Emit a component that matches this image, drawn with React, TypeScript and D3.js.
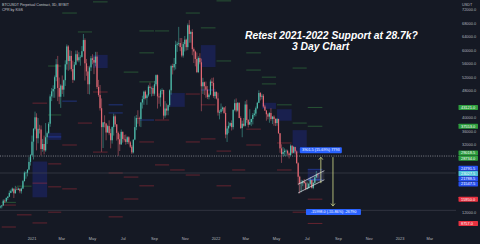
import React, { useEffect } from 'react';
import * as d3 from 'd3';

const W = 480;
const H = 244;

// ---- candles: 3-day bars starting 2020-10-30 (prices in thousands USDT) ----
const FIRST_BAR = '2020-10-30';
const BAR_DAYS = 3;
const OPEN0 = 13.5;
const closes = [
  13.8, 14.1, 15.5, 15.3, 16.3, 16.7, 17.8, 18.4, 19.1, 17.7,
  18.8, 18.7, 19.1, 18.3, 19.1, 21.3, 23.8, 23.8, 24.7, 27.0,
  29.0, 33.0, 36.8, 40.2, 34.0, 36.8, 36.6, 30.8, 32.3, 30.4,
  34.3, 35.5, 38.3, 46.4, 47.9, 48.6, 52.1, 55.9, 48.9, 46.3,
  49.6, 48.4, 51.2, 55.9, 61.2, 56.9, 58.4, 54.5, 51.3, 55.8,
  58.9, 57.1, 58.0, 58.1, 59.8, 63.1, 56.2, 53.8, 50.0, 55.0,
  57.7, 57.2, 56.4, 58.2, 49.2, 46.8, 42.9, 37.3, 38.7, 38.4,
  35.7, 37.6, 35.5, 33.4, 37.3, 40.5, 38.1, 35.6, 33.7, 32.2,
  35.9, 33.8, 33.7, 32.9, 34.3, 32.8, 31.5, 29.8, 33.6, 37.3,
  40.0, 39.9, 39.7, 44.6, 45.6, 47.8, 45.9, 46.7, 49.3, 48.9,
  48.9, 47.2, 50.0, 52.7, 46.4, 46.1, 48.1, 48.3, 40.7, 42.8,
  42.2, 43.8, 48.2, 55.4, 55.0, 56.0, 61.7, 62.0, 62.2, 61.0,
  58.5, 61.9, 63.2, 61.0, 67.5, 64.9, 65.5, 60.4, 59.7, 57.5,
  53.6, 57.8, 56.5, 49.4, 50.6, 49.4, 48.4, 46.2, 46.9, 50.8,
  50.4, 46.5, 47.7, 45.8, 41.6, 41.8, 42.6, 43.1, 41.5, 35.1,
  36.9, 37.7, 38.5, 37.3, 42.4, 44.4, 42.2, 44.5, 40.0, 37.0,
  38.3, 37.7, 44.0, 39.4, 38.0, 38.8, 39.7, 40.9, 41.3, 42.9,
  44.5, 47.4, 46.3, 46.6, 43.4, 42.2, 41.1, 40.4, 41.5, 39.7,
  40.4, 39.7, 38.5, 39.7, 35.5, 31.0, 29.3, 29.9, 30.3, 30.3,
  29.5, 29.0, 31.8, 29.7, 31.4, 30.1, 26.6, 22.6, 20.6, 20.7,
  21.2, 20.7, 19.0, 19.3, 20.5, 21.6, 19.3, 20.8, 22.4, 23.2,
  23.03,
];
const highs = [
  14.1, 14.2, 15.9, 15.9, 16.5, 16.9, 18.5, 18.8, 19.4, 19.0,
  19.9, 19.6, 19.4, 19.0, 19.4, 21.6, 24.2, 24.1, 24.8, 28.4,
  29.3, 34.8, 37.0, 41.9, 41.4, 40.0, 38.0, 37.8, 33.8, 34.8,
  38.5, 36.0, 38.8, 47.0, 48.9, 49.7, 52.6, 57.5, 58.4, 52.0,
  50.0, 52.6, 51.4, 57.1, 61.8, 61.6, 60.1, 59.9, 57.0, 56.6,
  60.0, 60.0, 59.5, 58.6, 61.3, 64.9, 63.6, 57.5, 55.4, 55.5,
  58.4, 58.9, 58.2, 59.6, 59.6, 51.3, 49.8, 45.8, 38.8, 40.8,
  38.4, 38.0, 39.3, 36.8, 37.5, 41.3, 41.0, 38.2, 36.0, 35.2,
  36.6, 36.0, 35.0, 35.1, 34.6, 34.6, 33.2, 32.0, 33.6, 40.5,
  40.9, 42.3, 40.4, 44.7, 46.6, 48.1, 48.2, 47.1, 49.8, 50.5,
  49.3, 49.6, 51.0, 52.9, 52.9, 47.3, 48.5, 48.8, 48.4, 45.0,
  44.3, 44.0, 48.5, 55.8, 56.1, 57.8, 62.9, 62.6, 67.0, 63.7,
  63.7, 62.5, 64.3, 63.5, 68.0, 69.0, 65.9, 66.3, 60.9, 60.0,
  59.4, 58.3, 59.2, 57.6, 51.9, 50.8, 50.8, 49.5, 47.3, 51.4,
  51.9, 52.0, 48.0, 47.9, 47.5, 42.3, 44.3, 43.4, 43.2, 43.5,
  37.6, 38.9, 38.7, 39.3, 42.6, 45.5, 45.8, 44.7, 44.6, 40.5,
  39.2, 40.0, 45.0, 45.4, 39.7, 42.6, 39.8, 41.5, 42.4, 43.4,
  44.8, 48.2, 47.7, 47.2, 47.1, 43.9, 42.4, 41.5, 41.7, 42.9,
  40.6, 40.8, 39.9, 40.0, 39.8, 35.5, 32.2, 31.4, 31.0, 30.7,
  30.6, 29.8, 32.2, 31.9, 31.7, 31.5, 30.4, 26.9, 22.9, 21.7,
  21.6, 21.9, 21.2, 20.9, 20.7, 22.5, 21.6, 20.9, 22.7, 24.3,
  23.7,
];
const lows = [
  13.2, 13.2, 14.0, 14.8, 15.1, 15.7, 16.6, 17.7, 18.0, 16.3,
  17.6, 18.6, 18.6, 17.7, 17.6, 19.0, 21.2, 22.0, 22.7, 24.5,
  25.9, 28.8, 27.7, 36.3, 30.4, 32.5, 35.4, 28.9, 30.0, 29.2,
  30.0, 32.3, 35.4, 37.4, 45.0, 46.0, 46.0, 50.9, 45.0, 44.1,
  43.0, 47.1, 46.3, 49.5, 54.3, 54.0, 54.3, 53.8, 50.4, 51.0,
  55.6, 56.7, 56.5, 55.5, 57.9, 59.8, 51.1, 52.5, 47.1, 47.0,
  53.9, 55.9, 53.0, 55.3, 48.6, 46.3, 42.2, 30.0, 31.1, 37.2,
  33.4, 35.7, 34.9, 31.0, 32.4, 34.8, 37.4, 33.3, 28.8, 30.2,
  32.0, 32.7, 33.0, 32.1, 32.3, 32.2, 31.1, 29.3, 29.5, 33.4,
  36.4, 38.3, 37.5, 37.3, 42.8, 43.9, 45.5, 43.9, 46.3, 47.1,
  46.4, 46.5, 46.6, 49.4, 42.8, 44.2, 43.4, 47.0, 39.6, 40.1,
  40.8, 40.8, 43.3, 46.9, 52.9, 54.1, 54.4, 59.6, 61.4, 59.8,
  58.0, 57.9, 59.7, 60.0, 60.1, 62.3, 62.3, 58.6, 56.3, 55.3,
  53.3, 53.3, 55.9, 42.0, 47.1, 46.8, 46.0, 45.6, 45.5, 46.7,
  49.5, 46.0, 45.7, 45.5, 40.7, 39.6, 41.3, 42.0, 41.2, 34.0,
  32.9, 35.5, 37.4, 36.3, 36.6, 42.0, 41.7, 41.9, 39.9, 36.8,
  34.3, 37.4, 37.5, 38.6, 37.2, 38.2, 37.6, 38.1, 40.4, 40.5,
  42.6, 44.4, 45.2, 45.5, 43.0, 42.1, 39.2, 39.6, 38.6, 39.2,
  38.2, 37.7, 37.6, 37.7, 35.3, 29.7, 26.7, 28.6, 28.7, 28.7,
  28.9, 28.0, 28.8, 29.3, 29.5, 29.2, 26.5, 20.1, 17.6, 18.0,
  19.8, 20.6, 18.6, 18.8, 19.0, 20.2, 19.1, 18.9, 20.5, 22.3,
  22.3,
];

// ---- monthly pivot level segments (month, price in thousands) ----
const greenLevels: [string, number][] = [
  ['2020-11', 15.0], ['2020-12', 19.8], ['2021-02', 55.4], ['2021-02', 40.9],
  ['2021-03', 71.1], ['2021-04', 65.5], ['2021-05', 74.4], ['2021-07', 53.6],
  ['2021-08', 65.8], ['2021-08', 59.3], ['2021-08', 50.7], ['2021-09', 65.8],
  ['2021-11', 71.1], ['2021-12', 66.7], ['2022-01', 74.7], ['2022-01', 56.9],
  ['2022-03', 59.3], ['2022-03', 54.2], ['2022-04', 52.1], ['2022-04', 50.1],
  ['2022-05', 43.9], ['2022-06', 54.8], ['2022-06', 38.5], ['2022-07', 43.121],
  ['2022-07', 37.553],
];
const redLevels: [string, number][] = [
  ['2020-11', 14.2], ['2020-11', 7.7], ['2020-12', 11.3], ['2021-01', 44.4],
  ['2021-01', 20.7], ['2021-01', 8.9], ['2021-02', 26.4], ['2021-02', 19.6],
  ['2021-02', 12.1], ['2021-03', 32.0], ['2021-03', 19.0], ['2021-03', 5.9],
  ['2021-04', 38.5], ['2021-05', 47.7], ['2021-05', 29.9], ['2021-06', 23.7],
  ['2021-06', 10.7], ['2021-07', 22.5], ['2021-07', 16.0], ['2021-08', 32.9],
  ['2021-08', 19.9], ['2021-09', 39.4], ['2021-09', 26.1], ['2021-10', 24.6],
  ['2021-11', 47.1], ['2021-11', 32.9], ['2021-11', 23.1], ['2021-12', 43.9],
  ['2021-12', 33.8], ['2022-01', 30.2], ['2022-01', 19.9], ['2022-02', 24.6],
  ['2022-02', 16.3], ['2022-03', 36.7], ['2022-03', 32.0], ['2022-05', 32.6],
  ['2022-05', 24.6], ['2022-06', 12.1], ['2022-07', 15.95], ['2022-07', 8.757],
];
const blueLevels: [string, number][] = [
  ['2021-02', 34.4], ['2021-03', 45.0], ['2021-06', 43.9], ['2021-06', 41.5],
  ['2021-08', 39.4], ['2021-12', 48.3], ['2022-07', 24.7915], ['2022-07', 21.7885],
  ['2022-07', 21.5475],
];
// central pivot range zones (month, top, bottom)
const cprZones: [string, number, number][] = [
  ['2021-01', 27.1, 16.5], ['2021-02', 35.6, 33.5], ['2021-05', 58.7, 54.8],
  ['2021-10', 47.4, 43.3], ['2021-12', 61.6, 55.1], ['2022-04', 44.5, 42.7],
  ['2022-05', 42.6, 39.2], ['2022-06', 36.4, 29.6], ['2022-07', 24.7915, 21.5475],
];

// ---- axes ----
const priceTicks = [72000, 68000, 64000, 60000, 56000, 52000, 48000, 44000, 40000, 36000, 32000, 28000, 24000, 20000, 16000, 12000, 8000];
const timeTicks: [string, string][] = [
  ['2021-01-01', '2021'], ['2021-03-01', 'Mar'], ['2021-05-01', 'May'], ['2021-07-01', 'Jul'],
  ['2021-09-01', 'Sep'], ['2021-11-01', 'Nov'], ['2022-01-01', '2022'], ['2022-03-01', 'Mar'],
  ['2022-05-01', 'May'], ['2022-07-01', 'Jul'], ['2022-09-01', 'Sep'], ['2022-11-01', 'Nov'],
  ['2023-01-01', '2023'], ['2023-03-01', 'Mar'],
];
const priceTags: [number, string][] = [
  [43121.0, 'green'], [37553.0, 'green'], [29018.5, 'green'], [28734.0, 'green'],
  [24791.5, 'blue'], [23027.5, 'cyan'], [21788.5, 'blue'], [21547.5, 'blue'],
  [15950.0, 'red'], [8757.0, 'red'],
];

// ---- drawings ----
const supportLevel = 28734;
const grayLines = [23700, 12640];
const channelLower: [string, number][] = [['2022-06-13', 17.8], ['2022-08-04', 21.7]];
const channelUpper: [string, number][] = [['2022-06-13', 20.4], ['2022-08-04', 24.4]];
const upMeasure = { date: '2022-07-28', from: 20.7, to: 28.4, text: '3901.5 (15.69%) 7793' };
const downMeasure = { date: '2022-08-21', from: 28.4, to: 13.9, text: '-15998.0 (-55.86%) -26790' };
const titleLines = ['Retest 2021-2022 Support at 28.7k?', '3 Day Chart'];
const legendLines = ['BTCUSDT Perpetual Contract, 3D, BYBIT', 'CPR by KGS'];

const COLORS: Record<string, string> = {
  green: '#2e9e3e', red: '#e8313f', blue: '#2750f0', cyan: '#4fc3d9',
};
const LINE_COLORS: Record<string, string> = {
  green: '#3f9a4a', red: '#c8323f', blue: '#2f55e8',
};

const parseDay = d3.utcParse('%Y-%m-%d');
const parseMonth = d3.utcParse('%Y-%m');

export default function App() {
  useEffect(() => {
    document.body.style.margin = '0';
    document.body.style.background = '#151924';
  }, []);

  const plotRight = 456;
  const x = d3.scaleUtc()
    .domain([new Date(Date.UTC(2021, 0, 1)), new Date(Date.UTC(2023, 0, 1))])
    .range([32, 400]);
  const y = d3.scaleLinear().domain([8000, 72000]).range([226, 10]);

  const t0 = parseDay(FIRST_BAR)!;
  const bars = closes.map((c, i) => ({
    date: d3.utcDay.offset(t0, i * BAR_DAYS),
    o: (i === 0 ? OPEN0 : closes[i - 1]) * 1000,
    c: c * 1000,
    h: highs[i] * 1000,
    l: lows[i] * 1000,
  }));

  const monthSpan = (m: string) => {
    const s = parseMonth(m)!;
    const e = d3.utcMonth.offset(s, 1);
    return [x(s) + 0.5, x(e) - 0.5];
  };

  // tag layout (stack overlapping tags)
  const TAG_H = 5.2;
  const sorted = priceTags.map(([p, c]) => ({ p, c, y0: y(p), y: y(p) })).sort((a, b) => a.y0 - b.y0);
  const groups: { items: typeof sorted }[] = [];
  const place = (gr: { items: typeof sorted }) => {
    const mean = d3.mean(gr.items, (d) => d.y0)!;
    const n = gr.items.length;
    gr.items.forEach((d, k) => { d.y = mean + (k - (n - 1) / 2) * TAG_H; });
  };
  sorted.forEach((t) => {
    groups.push({ items: [t] });
    let merged = true;
    while (merged && groups.length > 1) {
      merged = false;
      const g = groups[groups.length - 1];
      const prev = groups[groups.length - 2];
      place(g); place(prev);
      const prevBottom = prev.items[prev.items.length - 1].y;
      if (g.items[0].y - prevBottom < TAG_H) {
        prev.items = prev.items.concat(g.items);
        groups.pop();
        place(prev);
        merged = true;
      }
    }
  });
  const tags = sorted;
  const visibleTicks = priceTicks.filter((p) => tags.every((t) => Math.abs(t.y - y(p)) >= 5));

  const up = { x: x(parseDay(upMeasure.date)!), y1: y(upMeasure.from * 1000), y2: y(upMeasure.to * 1000) };
  const dn = { x: x(parseDay(downMeasure.date)!), y1: y(downMeasure.from * 1000), y2: y(downMeasure.to * 1000) };
  const arrowColor = '#d6dd8c';

  const chPt = (d: [string, number]) => [x(parseDay(d[0])!), y(d[1] * 1000)] as [number, number];
  const lo = channelLower.map(chPt);
  const hi = channelUpper.map(chPt);

  const upColor = '#4fbfae';
  const downColor = '#e46874';

  return (
    <svg width={W} height={H} style={{ position: 'absolute', left: 0, top: 0, display: 'block' }}
      fontFamily="'Liberation Sans', Arial, sans-serif">
      <rect x={0} y={0} width={W} height={H} fill="#151924" />
      <defs>
        <clipPath id="plot"><rect x={0} y={0} width={plotRight} height={232} /></clipPath>
      </defs>
      <g clipPath="url(#plot)">
        {/* CPR zones */}
        {cprZones.map(([m, t, b], i) => {
          const [x1, x2] = monthSpan(m);
          return <rect key={'z' + i} x={x1} y={y(t * 1000)} width={x2 - x1}
            height={y(b * 1000) - y(t * 1000)} fill="#2433b0" fillOpacity={0.3} />;
        })}
        {/* level segments */}
        {([[greenLevels, LINE_COLORS.green], [redLevels, LINE_COLORS.red], [blueLevels, LINE_COLORS.blue]] as [[string, number][], string][]).map(([arr, col], gi) =>
          arr.map(([m, p], i) => {
            const [x1, x2] = monthSpan(m);
            return <line key={gi + '-' + i} x1={x1} x2={x2} y1={y(p * 1000)} y2={y(p * 1000)}
              stroke={col} strokeWidth={0.6} strokeOpacity={0.75} />;
          })
        )}
        {/* gray horizontal lines */}
        {grayLines.map((p, i) => (
          <line key={'g' + i} x1={0} x2={plotRight} y1={y(p)} y2={y(p)} stroke="#434753" strokeWidth={0.6} />
        ))}
        {/* support dotted */}
        <line x1={0} x2={plotRight} y1={y(supportLevel)} y2={y(supportLevel)}
          stroke="#c9cbd2" strokeWidth={0.6} strokeDasharray="1 1.3" />
        {/* candles */}
        {bars.map((b, i) => {
          const cx = x(b.date);
          const col = b.c >= b.o ? upColor : downColor;
          const top = y(Math.max(b.o, b.c));
          const bot = y(Math.min(b.o, b.c));
          return (
            <g key={'b' + i}>
              <line x1={cx} x2={cx} y1={y(b.h)} y2={y(b.l)} stroke={col} strokeWidth={0.5} />
              <rect x={cx - 0.6} y={top} width={1.2} height={Math.max(0.5, bot - top)} fill={col} />
            </g>
          );
        })}
        {/* channel */}
        <polygon points={[lo[0], lo[1], hi[1], hi[0]].map((p) => p.join(',')).join(' ')}
          fill="#ffffff" fillOpacity={0.08} />
        <line x1={lo[0][0]} y1={lo[0][1]} x2={lo[1][0]} y2={lo[1][1]} stroke="#e8e8ee" strokeWidth={0.7} />
        <line x1={hi[0][0]} y1={hi[0][1]} x2={hi[1][0]} y2={hi[1][1]} stroke="#e8e8ee" strokeWidth={0.7} />
        {/* measures */}
        <line x1={up.x} x2={up.x} y1={up.y1} y2={up.y2 + 1} stroke={arrowColor} strokeWidth={0.8} />
        <path d={`M${up.x - 2},${up.y2 + 2.5} L${up.x},${up.y2} L${up.x + 2},${up.y2 + 2.5}`} fill="none" stroke={arrowColor} strokeWidth={0.8} />
        <line x1={dn.x} x2={dn.x} y1={dn.y1} y2={dn.y2 - 1} stroke={arrowColor} strokeWidth={0.8} />
        <path d={`M${dn.x - 2},${dn.y2 - 2.5} L${dn.x},${dn.y2} L${dn.x + 2},${dn.y2 - 2.5}`} fill="none" stroke={arrowColor} strokeWidth={0.8} />
        <rect x={up.x - 21} y={up.y2 - 10} width={42} height={6} rx={0.8} fill="#2962ff" />
        <text x={up.x} y={up.y2 - 5.7} textAnchor="middle" fontSize={3.8} fill="#ffffff">{upMeasure.text}</text>
        <rect x={dn.x - 27} y={dn.y2 + 3} width={55} height={6} rx={0.8} fill="#2962ff" />
        <text x={dn.x + 0.5} y={dn.y2 + 7.3} textAnchor="middle" fontSize={3.8} fill="#ffffff">{downMeasure.text}</text>
        {/* title */}
        <text x={245} y={39} fontSize={10.3} fontWeight="bold" fontStyle="italic" fill="#ffffff">{titleLines[0]}</text>
        <text x={292} y={49.5} fontSize={10.3} fontWeight="bold" fontStyle="italic" fill="#ffffff">{titleLines[1]}</text>
      </g>
      {/* legend */}
      <text x={2} y={5.6} fontSize={3.6} fill="#c8cad0">{legendLines[0]}</text>
      <text x={2} y={11.4} fontSize={3.6} fill="#c8cad0">{legendLines[1]}</text>
      {/* price axis */}
      <text x={462} y={5.5} fontSize={3.8} fill="#b2b5be">USDT</text>
      {visibleTicks.map((p) => (
        <text key={'t' + p} x={462} y={y(p) + 1.4} fontSize={3.9} fill="#b2b5be">{d3.format('.1f')(p)}</text>
      ))}
      {tags.map((t, i) => (
        <g key={'tag' + i}>
          <rect x={458.5} y={t.y - 2.5} width={19.5} height={5} rx={0.6} fill={COLORS[t.c]} />
          <text x={461} y={t.y + 1.4} fontSize={3.9} fill="#ffffff">{d3.format('.1f')(t.p)}</text>
        </g>
      ))}
      {/* time axis */}
      {timeTicks.map(([d, label]) => (
        <text key={'x' + d} x={x(parseDay(d)!)} y={239.5} textAnchor="middle" fontSize={3.9} fill="#b2b5be">{label}</text>
      ))}
    </svg>
  );
}
